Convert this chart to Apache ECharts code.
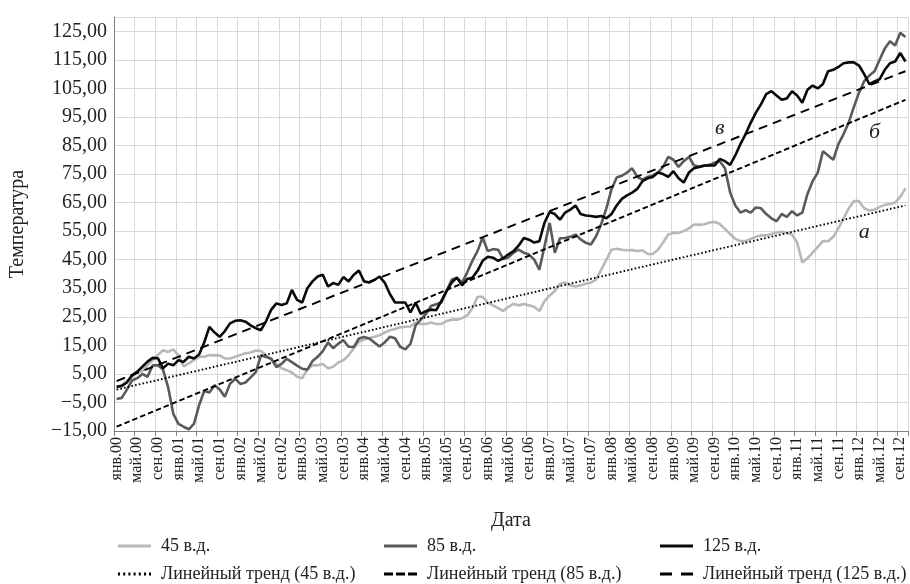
<!DOCTYPE html>
<html><head><meta charset="utf-8">
<script src="https://cdn.jsdelivr.net/npm/echarts@6/dist/echarts.min.js"></script>
<style>html,body{margin:0;padding:0;background:#fff}#c{width:910px;height:584px}</style>
</head><body><div id="c"></div>
<script>
const monthNames = ['янв','фев','мар','апр','май','июн','июл','авг','сен','окт','ноя','дек'];
const yearSuffixes = ['00','01','02','03','04','05','06','07','08','09','10','11','12'];
const monthCount = 154; // янв.00 .. окт.12
const categories = [];
yearSuffixes.forEach(y => monthNames.forEach(m => { if (categories.length < monthCount) categories.push(m + '.' + y); }));

const yTicks = [-15, -5, 5, 15, 25, 35, 45, 55, 65, 75, 85, 95, 105, 115, 125];

const s45 = [
 0, 1, 2.5, 4, 5.5, 6, 8, 9.8, 11.6, 13.3, 12.7, 13.6, 11.5, 7.6, 8.7, 9.8, 11, 11, 11.6, 11.5, 11.5, 10.4, 10.4, 11, 11.6, 12.2,
 12.5, 13.2, 13, 11.5, 10, 8.5, 7, 6.3, 5.5, 4, 3.5, 6.5, 8, 8, 8.5, 7, 7.5, 9, 9.8, 11.5, 14, 16.3, 17, 17.6, 18, 18.5,
 19.5, 20.3, 20.7, 21.3, 21.5, 21.6, 23, 22.5, 22.5, 23, 22.5, 22.5, 23.5, 24, 24, 24.5, 25.5, 28, 32, 32, 30, 29, 28, 27, 28.5, 29.5,
 29, 29.5, 29, 28.5, 27, 30.5, 32.5, 34, 36.5, 37, 36, 35.6, 36, 36.6, 37, 38, 41.5, 45, 48.5, 48.8, 48.5, 48.3, 48.4, 48, 48.3, 47,
 47, 48.5, 51, 53.8, 54.4, 54.4, 55, 56, 57.3, 57.2, 57.4, 58, 58.2, 57.5, 55.8, 54, 52.3, 51.5, 51.5, 52.3, 53, 53.5, 53.5, 54, 54.5, 54.8,
 54.4, 53.8, 51, 44, 45.5, 47.5, 49.5, 51.5, 51.5, 53, 56, 59.5, 63, 65.5, 65.5, 63, 62.2, 62.5, 63.5, 64.2, 64.5, 65, 67, 70
];
const s85 = [
 -3.8, -3.4, -0.5, 2.7, 3.5, 5, 4, 8, 8, 6.5, 0.3, -9, -12.5, -13.5, -14.4, -12.5, -6, -1, -1.5, 1, -0.5, -3, 1.5, 3.3, 1.5, 2,
 3.8, 5.6, 11.5, 10.9, 10.3, 7.4, 8.5, 10.3, 9.1, 7.9, 6.8, 6.5, 9.5, 11, 13, 16, 14, 15.6, 16.8, 14.5, 14.4, 17.4, 17.9, 17.4, 16, 14.6,
 16, 18, 17.5, 14.5, 13.6, 15.5, 22, 24, 26, 28.8, 29.4, 30, 34, 38, 38.7, 37, 40.5, 44.6, 48, 52.8, 48, 48.7, 48.5, 45.2, 45.8, 47.5,
 48.5, 47.4, 46.8, 45, 41.5, 49.7, 57.9, 47.4, 52.5, 52.6, 53, 53.8, 52.1, 50.9, 50.3, 53.2, 57.5, 63, 69.7, 73.8, 74.4, 75.5, 77, 74, 73, 74,
 74.5, 75.5, 77.5, 81, 80, 77.5, 79.5, 81, 78, 77.6, 77.9, 78.2, 79, 79.5, 77, 68.5, 64, 61.5, 62.3, 61.5, 63.3, 63, 61, 59.5, 58.5, 61,
 60, 62, 60.5, 61.5, 68, 72.5, 75.5, 83, 81.5, 80, 85.5, 89, 93, 98.5, 103.5, 107.5, 109.5, 111, 115, 119, 121.5, 120, 124.5, 123
];
const s125 = [
 0.5, 0.8, 2, 4.5, 5.8, 7.5, 9.3, 10.6, 10.5, 7, 8.6, 8, 9.8, 9.2, 11, 10.4, 11.8, 16, 21.5, 19.5, 18, 20, 22.7, 23.6, 23.8, 23.3,
 22, 21, 20.3, 23.5, 27.5, 29.7, 29.1, 29.7, 34.4, 30.9, 30, 35, 37.4, 39.1, 39.7, 35.6, 36.8, 36.2, 38.9, 37.4, 39.7, 41.2, 37.4, 37, 37.9, 39.1,
 37, 33, 30, 30, 30, 26.5, 30, 26, 27, 27.5, 27.3, 30.6, 34, 37, 38.7, 36, 38.2, 38.7, 41.1, 44.6, 46, 45.7, 44.6, 45.5, 46.9, 48,
 50, 52.6, 52, 51, 51.5, 58, 61.7, 61, 59, 61.5, 62.5, 64, 61, 60.5, 60.3, 60, 60.3, 59.5, 61, 64, 66.3, 67.5, 68.5, 69.8, 72.5, 73.5,
 74, 75.5, 75, 74, 76, 73.5, 72, 75.5, 77, 77.5, 78, 78, 78, 80.3, 79.5, 78.2, 81.5, 85.5, 89, 93, 96.5, 99.5, 103, 104, 102.5, 101,
 101.5, 104, 102.5, 100, 104.5, 106, 105, 106.5, 111, 111.5, 112.5, 113.8, 114.1, 114.1, 113, 110, 106.5, 107.4, 108.2, 111.5, 113.8, 114.4, 117.4, 114.4
];

// linear trend endpoints [first month, last month]
const trend45 = [-0.5, 64];
const trend85 = [-13.5, 101];
const trend125 = [2.5, 111];

const names = ['45 в.д.', '85 в.д.', '125 в.д.', 'Линейный тренд (45 в.д.)', 'Линейный тренд (85 в.д.)', 'Линейный тренд (125 в.д.)'];
// annotation letter, month index, value
const annotations = [ ['а', 145, 54.5], ['б', 147, 89.5], ['в', 117, 91] ];

function trendData(ends) {
  const d = new Array(monthCount).fill(null);
  d[0] = ends[0]; d[monthCount - 1] = ends[1];
  return d;
}
const FONT = 'Liberation Serif';
const TXT = '#222';

function fmt(v) {
  const s = Math.abs(v).toFixed(2).replace('.', ',');
  return (v < 0 ? '\u2212' : '') + s;
}

function annot(a) {
  return {
    symbol: 'circle', symbolSize: 2, silent: true,
    itemStyle: { color: 'rgba(0,0,0,0)', borderWidth: 0 },
    label: { show: true, position: 'inside', formatter: a[0],
      fontFamily: FONT, fontStyle: 'italic', fontSize: 22, color: TXT },
    data: [{ coord: [categories[a[1]], a[2]] }]
  };
}

const colors = ['#b8b8b8', '#5a5a5a', '#0a0a0a', '#000', '#000', '#000'];
const icons = ['rect', 'rect', 'rect',
  'path://M0,0h2v3h-2zM5.2,0h2v3h-2zM10.4,0h2v3h-2zM15.6,0h2v3h-2zM20.8,0h2v3h-2zM26,0h2v3h-2zM31,0h2v3h-2z',
  'path://M0,0h9v3h-9zM12,0h9v3h-9zM24,0h9v3h-9z',
  'path://M0,0h12v3h-12zM21,0h12v3h-12z'];
const legendPos = [[113, 532], [379, 532], [655, 532], [113, 560], [379, 560], [655, 560]];

const legends = names.map((n, i) => ({
  data: [{ name: n, icon: icons[i] }],
  left: legendPos[i][0], top: legendPos[i][1],
  itemWidth: 33, itemHeight: 3, selectedMode: false,
  itemStyle: { borderWidth: 0, color: colors[i] },
  textStyle: { fontFamily: FONT, fontSize: 18, color: TXT, padding: [0, 0, 0, 5] }
}));

const seriesMain = [s45, s85, s125].map((d, i) => ({
  name: names[i], type: 'line', data: d, symbol: 'none', smooth: false,
  lineStyle: { color: colors[i], width: 2.6 }, itemStyle: { color: colors[i] },
  z: 2 + i, animation: false
}));
const trendTypes = [[1.6, 2.2], [5.5, 3], [9, 6]];
const seriesTrend = [trend45, trend85, trend125].map((t, i) => ({
  name: names[3 + i], type: 'line', data: trendData(t), connectNulls: true, symbol: 'none',
  lineStyle: { color: '#000', width: 1.9, type: trendTypes[i] }, itemStyle: { color: '#000' },
  z: 6, animation: false, markPoint: annot(annotations[i])
}));

const chart = echarts.init(document.getElementById('c'), null, { renderer: 'canvas' });
chart.setOption({
  animation: false,
  backgroundColor: '#fff',
  grid: { left: 112, right: 2, top: 17, bottom: 153, containLabel: false },
  legend: legends,
  xAxis: {
    type: 'category', data: categories, boundaryGap: true,
    name: 'Дата', nameLocation: 'middle', nameGap: 80,
    nameTextStyle: { fontFamily: FONT, fontSize: 20, color: TXT },
    axisLine: { onZero: false, lineStyle: { color: '#7f7f7f', width: 1 } },
    axisTick: { show: true, interval: 3, length: 5, lineStyle: { color: '#7f7f7f' } },
    axisLabel: { interval: 3, rotate: 90, margin: 6, fontFamily: FONT, fontSize: 16, color: TXT },
    splitLine: { show: true, interval: 3, lineStyle: { color: '#d9d9d9', width: 1 } }
  },
  yAxis: {
    type: 'value', min: -15, max: 130, interval: 10,
    name: 'Температура', nameLocation: 'middle', nameGap: 86, nameRotate: 90,
    nameTextStyle: { fontFamily: FONT, fontSize: 20, color: TXT },
    axisLine: { show: true, lineStyle: { color: '#7f7f7f', width: 1 } },
    axisTick: { show: false },
    axisLabel: { showMaxLabel: false, margin: 7, fontFamily: FONT, fontSize: 20, color: TXT,
      verticalAlign: 'middle', padding: [0, 0, 16, 0],
      formatter: v => (yTicks.indexOf(v) >= 0 ? fmt(v) : '') },
    splitLine: { show: true, lineStyle: { color: '#d9d9d9', width: 1 } }
  },
  series: seriesMain.concat(seriesTrend)
});
</script>
</body></html>
